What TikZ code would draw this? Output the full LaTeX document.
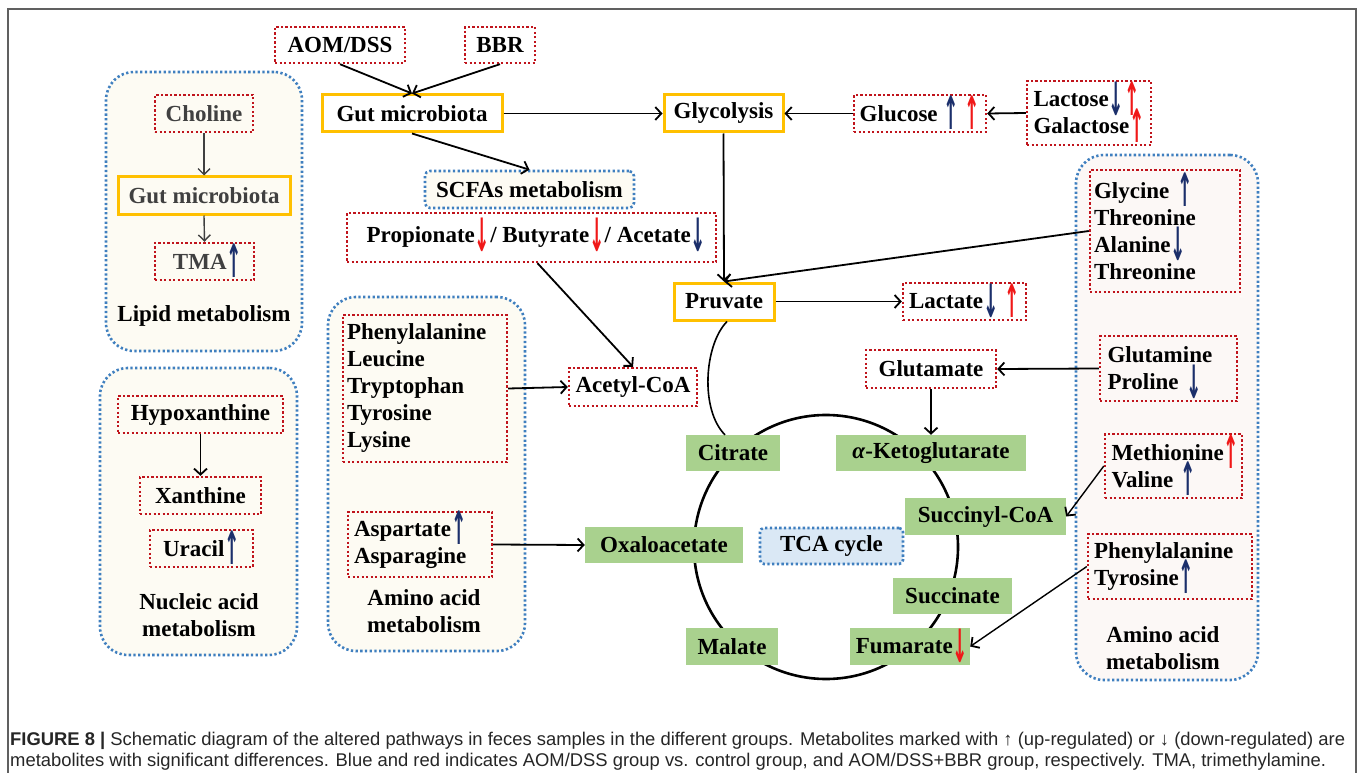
\documentclass[tikz,border=0pt]{standalone}
\usepackage{fontspec}
\usepackage{graphicx}
\setmainfont{Liberation Serif}
\newfontfamily\capfont{Liberation Sans}
\newfontfamily\arrfont{DejaVu Sans}
\usetikzlibrary{arrows.meta}
\definecolor{dred}{HTML}{C0141C}
\definecolor{gold}{HTML}{FFC000}
\definecolor{lgreen}{HTML}{A9D18E}
\definecolor{gblue}{HTML}{3F7FBF}
\definecolor{cream}{HTML}{FDFBF3}
\definecolor{pinkish}{HTML}{FCF8F6}
\definecolor{lblue}{HTML}{DAE8F5}
\definecolor{navy}{HTML}{1B2F6B}
\definecolor{rred}{HTML}{F01818}
\definecolor{dgray}{HTML}{404040}
\definecolor{framegray}{HTML}{606060}
\newcommand\ua[1]{\textcolor{#1}{\smash{\raisebox{-0.36em}{\scalebox{0.8}[2.0]{\arrfont\bfseries ↑}}}}}
\newcommand\da[1]{\textcolor{#1}{\smash{\raisebox{-0.36em}{\scalebox{0.8}[2.0]{\arrfont\bfseries ↓}}}}}
\tikzset{
  base/.style={font=\bfseries\fontsize{23}{27}\selectfont, inner sep=0pt, align=center},
  redbox/.style={base, draw=dred, line width=2.4pt, dash pattern=on 2.2pt off 2.3pt},
  goldbox/.style={base, draw=gold, line width=3pt, fill=white},
  greenbox/.style={base, fill=lgreen},
  grp/.style={draw=gblue, line width=2.6pt, dash pattern=on 2.3pt off 2.4pt, rounded corners=28pt, fill=cream},
  bluebox/.style={base, draw=gblue, line width=2.6pt, dash pattern=on 2.3pt off 2.4pt, rounded corners=5pt},
  conn/.style={draw=black, line width=1.8pt, -{Straight Barb[length=6pt,width=13pt,line width=1.8pt]}},
  thinconn/.style={draw=dgray, line width=1.4pt, -{Straight Barb[length=6pt,width=12pt,line width=1.4pt]}},
  lbl/.style={base, align=center},
  captext/.style={anchor=base west, inner sep=0pt, font=\capfont\fontsize{18.4}{21}\selectfont, text=black!85},
}
\begin{document}
\begin{tikzpicture}[x=1pt,y=-1pt]
\path[use as bounding box] (0,0) rectangle (1358,773);
\fill[white] (0,0) rectangle (1358,773);
% frame
\coordinate (f1) at (8,773);
\coordinate (f2) at (8,9);
\coordinate (f3) at (1356,9);
\coordinate (f4) at (1356,773);
\draw[framegray, line width=2pt] (f1) -- (f2) -- (f3) -- (f4);

% groups
\node[grp, minimum width=196pt, minimum height=279pt] (glipid) at (204,211.5) {};
\node[grp, minimum width=197pt, minimum height=287pt] (gnuc) at (198.5,511.5) {};
\node[grp, minimum width=197pt, minimum height=354pt] (gaa1) at (426.5,474) {};
\node[grp, fill=pinkish, minimum width=182pt, minimum height=525pt] (gaa2) at (1167,417.5) {};

% TCA circle
\coordinate (tcac) at (826,547);
\draw[line width=2.6pt] (tcac) circle[radius=132pt];

% top
\node[redbox, minimum width=130pt, minimum height=36pt] (aom) at (340,45) {AOM/DSS};
\node[redbox, minimum width=70pt, minimum height=36pt] (bbr) at (500,45) {BBR};
\node[goldbox, minimum width=180pt, minimum height=37pt] (gm) at (412,113.5) {Gut microbiota};
\node[goldbox, minimum width=119pt, minimum height=37pt] (gly) at (723.5,113.5) {Glycolysis};
\node[redbox, minimum width=132pt, minimum height=37pt] (glu) at (920,113.5) {Glucose \ua{navy}\hspace{6pt}\ua{rred}};
\node[redbox, minimum width=124pt, minimum height=64pt, text width=113pt, align=left] (lac) at (1089,113) {\hspace*{1pt}Lactose\da{navy}\ua{rred}\\\hspace*{1pt}Galactose\ua{rred}};

% lipid
\node[redbox, text=dgray, minimum width=98pt, minimum height=37pt] (cho) at (204,113.5) {Choline};
\node[goldbox, text=dgray, fill=none, minimum width=172pt, minimum height=37pt] (gm2) at (204,195.5) {Gut microbiota};
\node[redbox, text=dgray, minimum width=99pt, minimum height=37pt] (tma) at (204.5,261.5) {\hspace*{6pt}TMA\ua{navy}};
\node[lbl] (llipid) at (204,316) {Lipid metabolism};

% SCFA
\node[bluebox, fill=cream, minimum width=209pt, minimum height=37pt] (scfa) at (529.5,189.5) {SCFAs metabolism};
\node[redbox, minimum width=369pt, minimum height=49pt] (prop) at (531.5,237.5) {\hspace*{10pt}Propionate\da{rred}/ Butyrate\da{rred}/ Acetate\da{navy}};

\node[goldbox, minimum width=100pt, minimum height=37pt] (pru) at (724,301.5) {Pruvate};
\node[redbox, minimum width=123pt, minimum height=37pt] (lact) at (964.5,301.5) {Lactate\da{navy}\hspace{6pt}\ua{rred}};

% right amino acid group
\node[redbox, minimum width=150pt, minimum height=122pt, text width=140pt, align=left] (glyb) at (1165,231) {\hspace*{-1pt}Glycine \ua{navy}\\\hspace*{-1pt}Threonine\\\hspace*{-1pt}Alanine\da{navy}\\\hspace*{-1pt}Threonine};
\node[redbox, minimum width=137pt, minimum height=65pt, text width=122pt, align=left] (gln) at (1168.5,368.5) {Glutamine\\Proline \da{navy}};
\node[redbox, minimum width=137pt, minimum height=64pt, text width=124pt, align=left] (met) at (1173.5,466) {Methionine\ua{rred}\\Valine \ua{navy}};
\node[redbox, minimum width=164pt, minimum height=65pt, text width=152pt, align=left] (phe2) at (1170,566.5) {Phenylalanine\\Tyrosine\ua{navy}};
\node[lbl] (laa2) at (1163,648) {Amino acid\\metabolism};

% TCA nodes
\node[redbox, minimum width=130pt, minimum height=38pt] (glut) at (931,369) {Glutamate};
\node[greenbox, minimum width=190pt, minimum height=36pt] (akg) at (931,453) {\textit{α}-Ketoglutarate};
\node[greenbox, minimum width=94pt, minimum height=36pt] (cit) at (733,453) {Citrate};
\node[greenbox, minimum width=161pt, minimum height=37pt] (sucoa) at (985.5,516.5) {Succinyl-CoA};
\node[greenbox, minimum width=158pt, minimum height=36pt] (oxa) at (664,545) {Oxaloacetate};
\node[bluebox, fill=lblue, rounded corners=4pt, minimum width=143pt, minimum height=36pt] (tca) at (831.5,546) {TCA cycle};
\node[greenbox, minimum width=119pt, minimum height=36pt] (succ) at (952.5,596) {Succinate};
\node[greenbox, minimum width=92pt, minimum height=37pt] (mal) at (732,646.5) {Malate};
\node[greenbox, minimum width=120pt, minimum height=37pt] (fum) at (910,646.5) {\hspace*{4pt}Fumarate\da{rred}};

% left amino acid group
\node[redbox, minimum width=164pt, minimum height=147pt, text width=156pt, align=left] (phe) at (425,388.5) {Phenylalanine\\Leucine\\Tryptophan\\Tyrosine\\Lysine};
\node[redbox, minimum width=144pt, minimum height=65pt, text width=132pt, align=left] (asp) at (420,544.5) {Aspartate\ua{navy}\\Asparagine};
\node[lbl] (laa1) at (424,611) {Amino acid\\metabolism};
\node[redbox, minimum width=128pt, minimum height=38pt] (acoa) at (633,387) {Acetyl-CoA};

% nucleic
\node[redbox, minimum width=165pt, minimum height=37pt] (hyp) at (200.5,414.5) {Hypoxanthine};
\node[redbox, minimum width=121pt, minimum height=37pt] (xan) at (200.5,495.5) {Xanthine};
\node[redbox, minimum width=103pt, minimum height=37pt] (ura) at (201.5,548.5) {Uracil\ua{navy}};
\node[lbl] (lnuc) at (199,615) {Nucleic acid\\metabolism};

% connectors
\draw[conn] (aom.south) -- (gm.north);
\draw[conn] (bbr.south) -- (gm.north);
\draw[conn] (gm.east) -- (gly.west);
\draw[conn] (gm.south) -- (scfa.north);
\draw[conn] (glu.west) -- (gly.east);
\draw[conn] (lac.west) -- (glu.east);
\draw[conn] (gly.south) -- (pru.north);
\draw[conn] (glyb.west) -- (pru.north);
\draw[conn] ([xshift=6pt]prop.south) -- (acoa.north);
\draw[conn] (pru.east) -- (lact.west);
\draw[conn] (gln.west) -- (glut.east);
\draw[conn] (glut.south) -- (akg.north);
\draw[conn] (phe.east) -- (acoa.west);
\draw[conn] (asp.east) -- (oxa.west);
\draw[conn, line width=1.4pt] (met.west) -- (sucoa.east);
\draw[conn, line width=1.4pt] (phe2.west) -- (fum.east);
\draw[thinconn] (cho.south) -- (gm2.north);
\draw[thinconn] (gm2.south) -- (tma.north);
\draw[conn, line width=1.4pt] (hyp.south) -- (xan.north);
\draw[line width=1.6pt] ([xshift=3pt]pru.south) .. controls (704,345) and (700,410) .. ([xshift=-8pt]cit.north);

% caption
\node[captext] (cap1) at (10,745) {\textbf{FIGURE 8 |} Schematic diagram of the altered pathways in feces samples in the different groups. Metabolites marked with ↑ (up-regulated) or ↓ (down-regulated) are};
\node[captext] (cap2) at (10,766) {metabolites with significant differences. Blue and red indicates AOM/DSS group vs. control group, and AOM/DSS+BBR group, respectively. TMA, trimethylamine.};
\end{tikzpicture}
\end{document}
